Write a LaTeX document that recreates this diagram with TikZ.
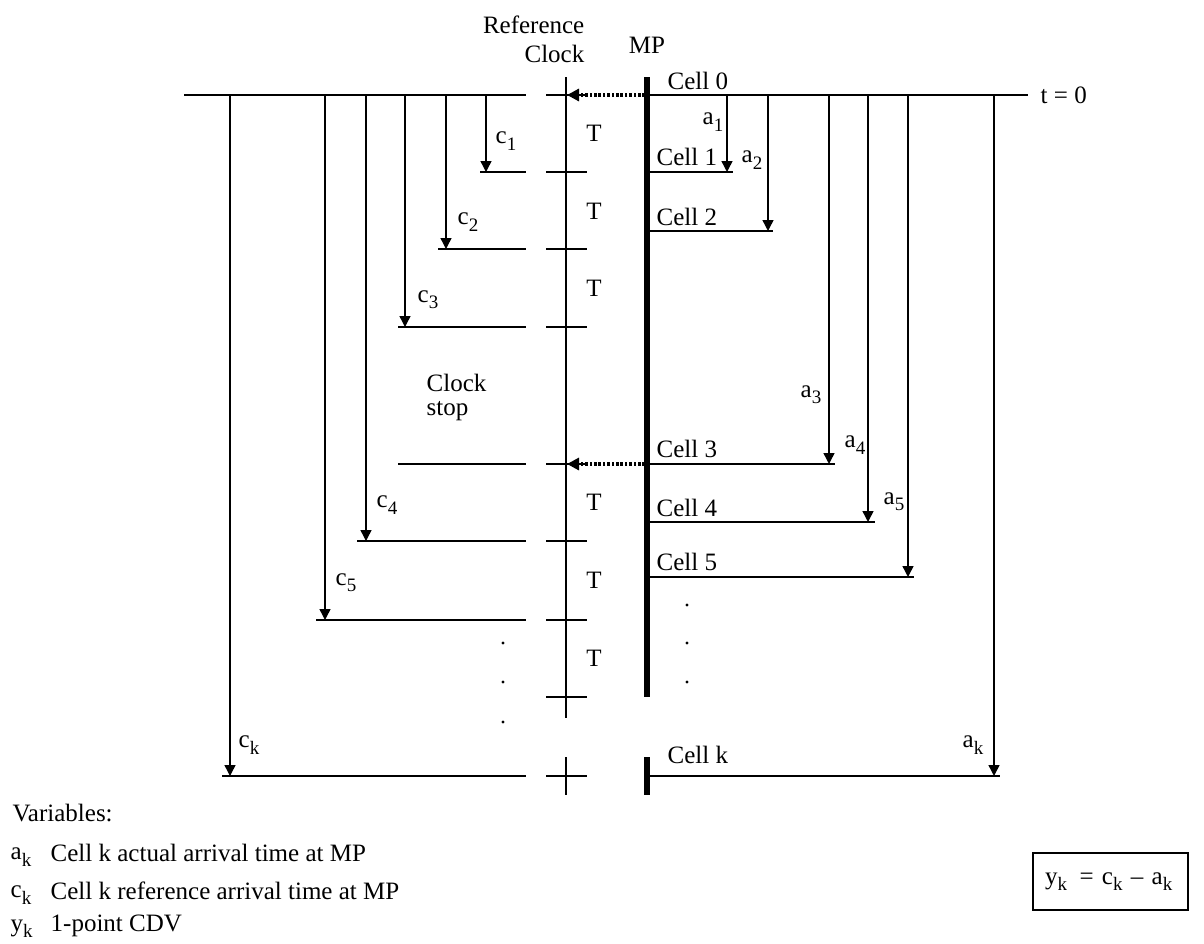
\documentclass[tikz,border=0pt]{standalone}
\usepackage{fontspec}
\setmainfont{Liberation Serif}
\usetikzlibrary{arrows.meta}

\newcommand{\lowsub}[1]{\raisebox{-0.55ex}{\fontsize{9.5}{10}\selectfont #1}}

\begin{document}
\begin{tikzpicture}[x=0.5pt,y=-0.5pt,>={Triangle[length=5.5pt,width=5.5pt]},
        line width=0.7pt,
        every node/.style={font=\fontsize{12.5}{14.5}\selectfont,inner sep=0pt},
        lbl/.style={anchor=west},
        arr/.style={->},
        mpline/.style={line width=3pt},
        clkarrow/.style={-{Triangle[length=6pt,width=6pt]},
                         dash pattern=on 1.3pt off 0.9pt,line width=1.6pt}]
        \useasboundingbox (0,0) rectangle (1204,943);

        % t = 0 line
        \draw (184,95) -- (526,95);
        \draw (650,95) -- (1028,95);
        \node[lbl] (tzero) at (1040,95) {t = 0};

        % reference clock and measurement point
        \node[align=right,anchor=east] (refclock) at (585,39) {Reference\\Clock};
        \node (mp) at (647,45) {MP};
        \draw (566,77) -- (566,718);
        \draw (566,757) -- (566,795);
        \foreach \y in {95,172,249,327,464,541,620,697,776}
            \draw (546,\y) -- (587,\y);
        \draw[mpline] (647,77) -- (647,697);
        \draw[mpline] (647,757) -- (647,795);
        \foreach \y in {133,211,288,502,580,658}
            \node (T\y) at (594,\y) {T};

        % clock restarts
        \coordinate (mp0) at (645,95);
        \coordinate (rc0) at (567,95);
        \coordinate (mp3) at (645,464);
        \coordinate (rc3) at (567,464);
        \draw[clkarrow] (mp0) -- (rc0);
        \draw[clkarrow] (mp3) -- (rc3);
        \node[align=left,anchor=west,font=\fontsize{12.5}{12}\selectfont]
              (clockstop) at (426,397) {Clock\\stop};

        % reference arrival times
        \foreach \x/\y in {480/172,438/249,398/327,398/464,357/541,316/620,222/776}
            \draw (\x,\y) -- (526,\y);
        \foreach \n/\x/\y in {1/486/172,2/446/249,3/405/327,4/366/541,5/325/620,k/230/776}{
            \coordinate (c\n top) at (\x,95);
            \coordinate (c\n) at (\x,\y);
            \draw[arr] (c\n top) -- (c\n);
        }
        \node[lbl] (lc1) at (495,141) {c\lowsub{1}};
        \node[lbl] (lc2) at (457,222) {c\lowsub{2}};
        \node[lbl] (lc3) at (417,300) {c\lowsub{3}};
        \node[lbl] (lc4) at (376,505) {c\lowsub{4}};
        \node[lbl] (lc5) at (335,583) {c\lowsub{5}};
        \node[lbl] (lck) at (238,745) {c\lowsub{k}};

        % actual arrival times
        \foreach \y/\x in {172/733,231/773,464/835,522/875,577/914,776/1000}
            \draw (650,\y) -- (\x,\y);
        \foreach \n/\x/\y in {1/727/172,2/768/231,3/829/464,4/868/522,5/908/577,k/994/776}{
            \coordinate (a\n top) at (\x,95);
            \coordinate (a\n) at (\x,\y);
            \draw[arr] (a\n top) -- (a\n);
        }
        \node[lbl] (la1) at (702,122) {a\lowsub{1}};
        \node[lbl] (la2) at (741,160) {a\lowsub{2}};
        \node[lbl] (la3) at (800,395) {a\lowsub{3}};
        \node[lbl] (la4) at (844,445) {a\lowsub{4}};
        \node[lbl] (la5) at (883,502) {a\lowsub{5}};
        \node[lbl] (lak) at (962,745) {a\lowsub{k}};

        \node[lbl] (cell0) at (667,81) {Cell 0};
        \node[lbl] (cell1) at (656,157) {Cell 1};
        \node[lbl] (cell2) at (656,217) {Cell 2};
        \node[lbl] (cell3) at (656,449) {Cell 3};
        \node[lbl] (cell4) at (656,508) {Cell 4};
        \node[lbl] (cell5) at (656,562) {Cell 5};
        \node[lbl] (cellk) at (667,755) {Cell k};

        % dots
        \foreach \y in {643,682,722}
            \fill (503,\y) circle (1.6);
        \foreach \y in {605,643,682}
            \fill (687,\y) circle (1.6);

        % legend
        \node[lbl] (vars) at (12,813) {Variables:};
        \node[lbl] (vak) at (10,857) {a\lowsub{k}};
        \node[lbl] (tak) at (50,853) {Cell k actual arrival time at MP};
        \node[lbl] (vck) at (10,895) {c\lowsub{k}};
        \node[lbl] (tck) at (50,891) {Cell k reference arrival time at MP};
        \node[lbl] (vyk) at (10,929) {y\lowsub{k}};
        \node[lbl] (tyk) at (50,926) {1-point CDV};

        \node[draw,line width=0.7pt,minimum height=28.5pt,text width=65.5pt,
              inner xsep=6pt,align=left] (formula) at (1110.5,881.5)
              {y\lowsub{k} \,= c\lowsub{k} – a\lowsub{k}};
    \end{tikzpicture}
\end{document}
